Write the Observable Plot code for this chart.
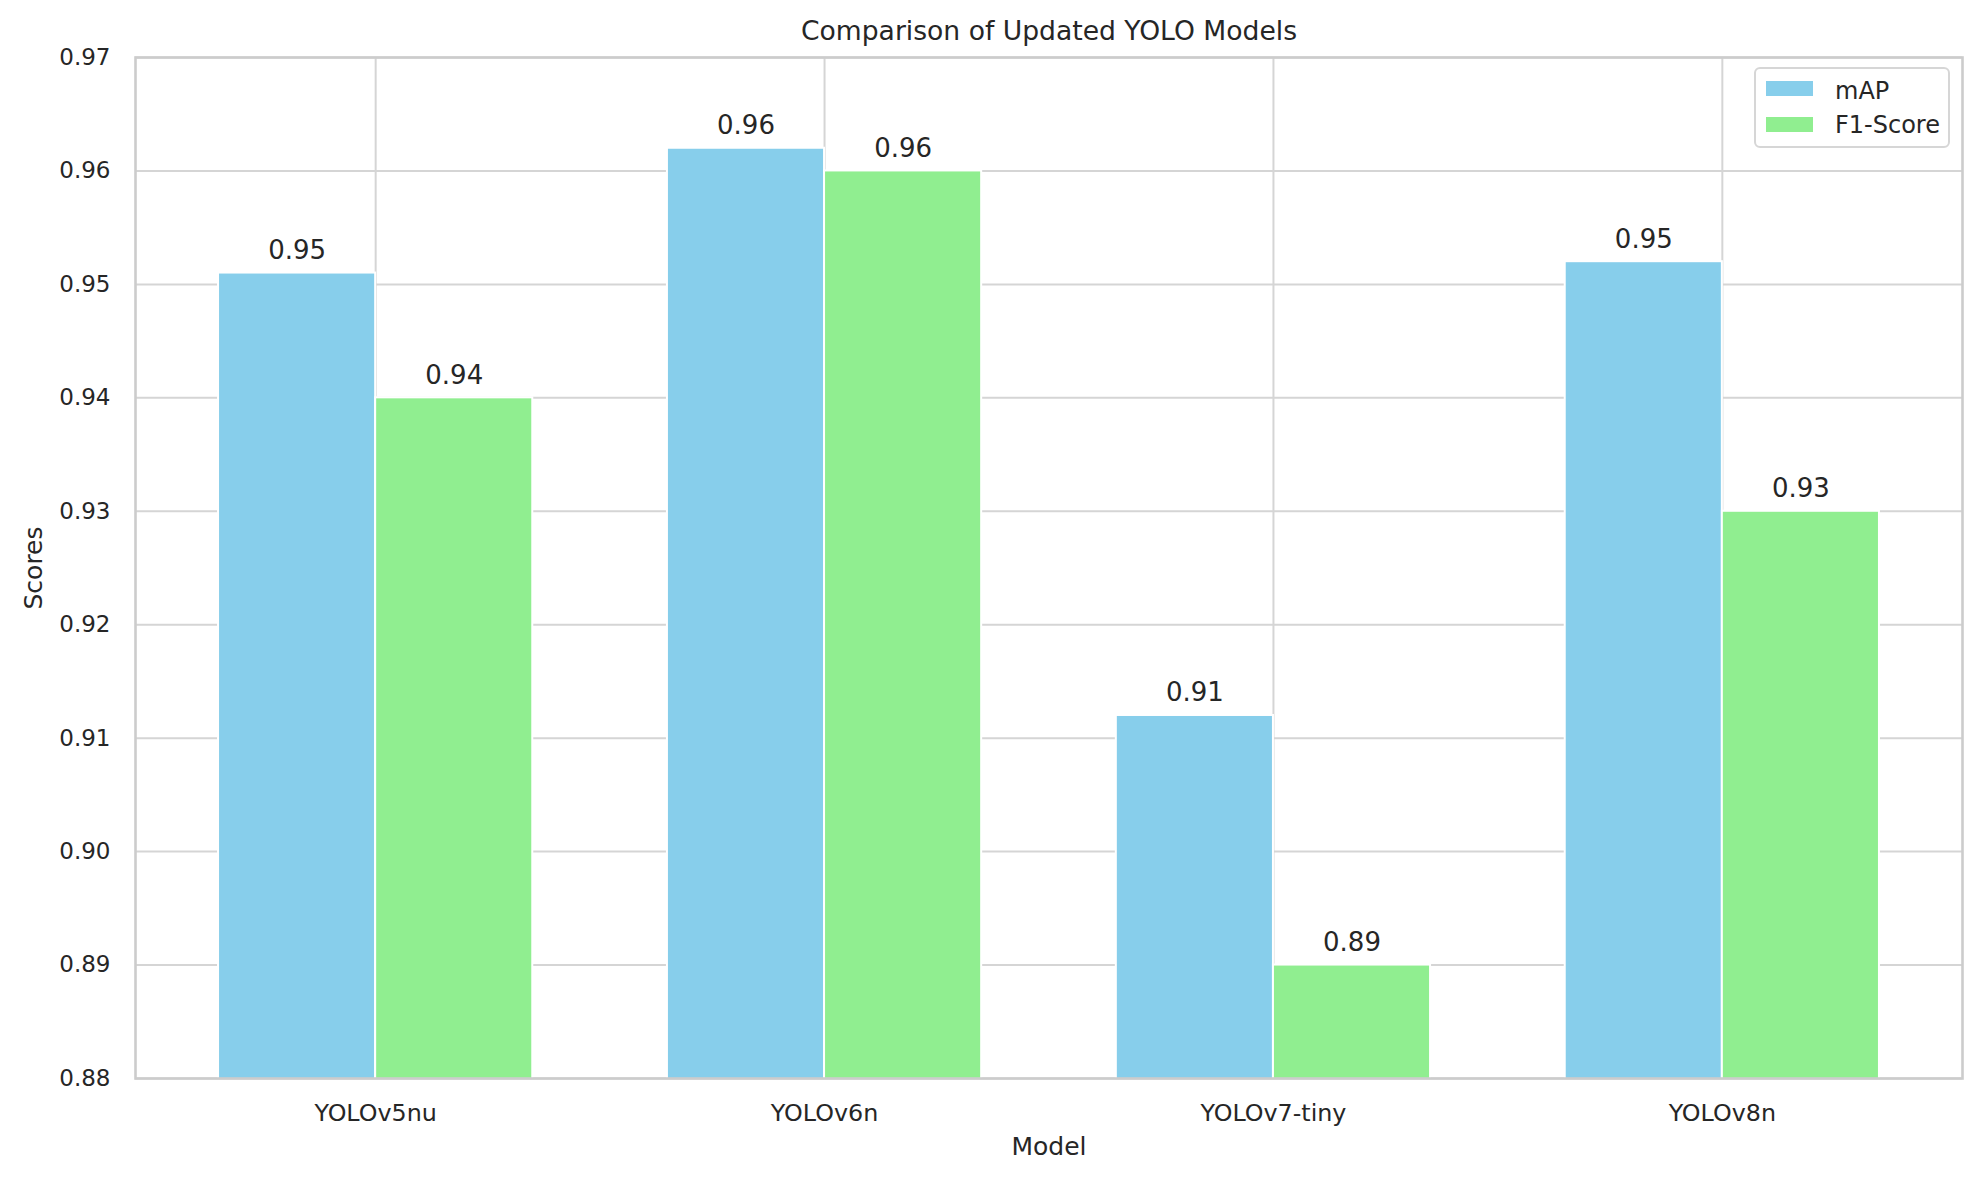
<!DOCTYPE html>
<html>
<head>
<meta charset="utf-8">
<script src="https://cdn.jsdelivr.net/npm/d3@7"></script>
<script src="https://cdn.jsdelivr.net/npm/@observablehq/plot@0.6"></script>
<style>
  html, body { margin: 0; padding: 0; background: #fff; }
  #wrap { position: relative; width: 1982px; height: 1182px; font-family: "DejaVu Sans", sans-serif; color: #262626; }
  #legend { position: absolute; left: 1754px; top: 67px; width: 196px; height: 81px; box-sizing: border-box;
            border: 2px solid #d6d6d6; border-radius: 6px; background: rgba(255,255,255,0.8); }
  .sw { position: absolute; left: 10px; width: 47px; height: 15px; }
  .lt { position: absolute; left: 79px; font-size: 24px; line-height: 1; white-space: nowrap; }
</style>
</head>
<body>
<div id="wrap"></div>
<script>
const title = "Comparison of Updated YOLO Models";
const models = ["YOLOv5nu", "YOLOv6n", "YOLOv7-tiny", "YOLOv8n"];
const metrics = ["mAP", "F1-Score"];
const mapValues = [0.951, 0.962, 0.912, 0.952];
const f1Values = [0.940, 0.960, 0.890, 0.930];
const colors = ["#87CEEB", "#90EE90"];
const yTicks = [0.88, 0.89, 0.90, 0.91, 0.92, 0.93, 0.94, 0.95, 0.96, 0.97];
const xLabel = "Model";
const yLabel = "Scores";

const barWidth = 0.35;
const rows = [];
models.forEach((m, i) => {
  rows.push({model: m, metric: metrics[0], value: mapValues[i], x1: i - barWidth, x2: i});
  rows.push({model: m, metric: metrics[1], value: f1Values[i], x1: i, x2: i + barWidth});
});

const fmt = d3.format(".2f");
const txt = "#262626";

const chart = Plot.plot({
  width: 1982,
  height: 1182,
  marginLeft: 135,
  marginRight: 20,
  marginTop: 57,
  marginBottom: 104,
  style: {fontFamily: "DejaVu Sans, sans-serif", fontSize: "23px", color: txt, background: "white", overflow: "visible"},
  x: {type: "linear", domain: [-0.535, models.length - 1 + 0.535]},
  y: {domain: [yTicks[0], yTicks[yTicks.length - 1]]},
  color: {domain: metrics, range: colors},
  marks: [
    Plot.gridY(yTicks, {stroke: "#d5d5d5", strokeOpacity: 1, strokeWidth: 2}),
    Plot.gridX(d3.range(models.length), {stroke: "#d5d5d5", strokeOpacity: 1, strokeWidth: 2}),
    Plot.rectY(rows, {x1: "x1", x2: "x2", y1: 0, y2: "value", fill: "metric", stroke: "white", strokeWidth: 2, clip: true}),
    Plot.frame({stroke: "#cccccc", strokeWidth: 2.6}),
    Plot.axisY({ticks: yTicks, tickSize: 0, tickPadding: 25, tickFormat: fmt, label: null, fontSize: 23, fill: txt}),
    Plot.axisX({ticks: d3.range(models.length), tickSize: 0, tickPadding: 26, tickFormat: i => models[i], label: null, fontSize: 23.8, fill: txt}),
    Plot.text(rows, {x: d => (d.x1 + d.x2) / 2, y: "value", text: d => fmt(d.value), lineAnchor: "bottom", dy: -14, fontSize: 26, fill: txt}),
    Plot.text([title], {frameAnchor: "top", textAnchor: "middle", lineAnchor: "bottom", dy: -18, fontSize: 26.6, fill: txt}),
    Plot.text([yLabel], {frameAnchor: "left", textAnchor: "middle", lineAnchor: "middle", rotate: -90, dx: -102, fontSize: 25, fill: txt}),
    Plot.text([xLabel], {frameAnchor: "bottom", textAnchor: "middle", lineAnchor: "middle", dy: 68, fontSize: 25, fill: txt})
  ]
});

const wrap = document.getElementById("wrap");
wrap.appendChild(chart);

const legend = document.createElement("div");
legend.id = "legend";
const swTops = [12, 48];
const txTops = [10, 44];
metrics.forEach((m, i) => {
  const sw = document.createElement("div");
  sw.className = "sw";
  sw.style.top = swTops[i] + "px";
  sw.style.background = colors[i];
  legend.appendChild(sw);
  const lt = document.createElement("div");
  lt.className = "lt";
  lt.style.top = txTops[i] + "px";
  lt.textContent = m;
  legend.appendChild(lt);
});
wrap.appendChild(legend);
</script>
</body>
</html>
